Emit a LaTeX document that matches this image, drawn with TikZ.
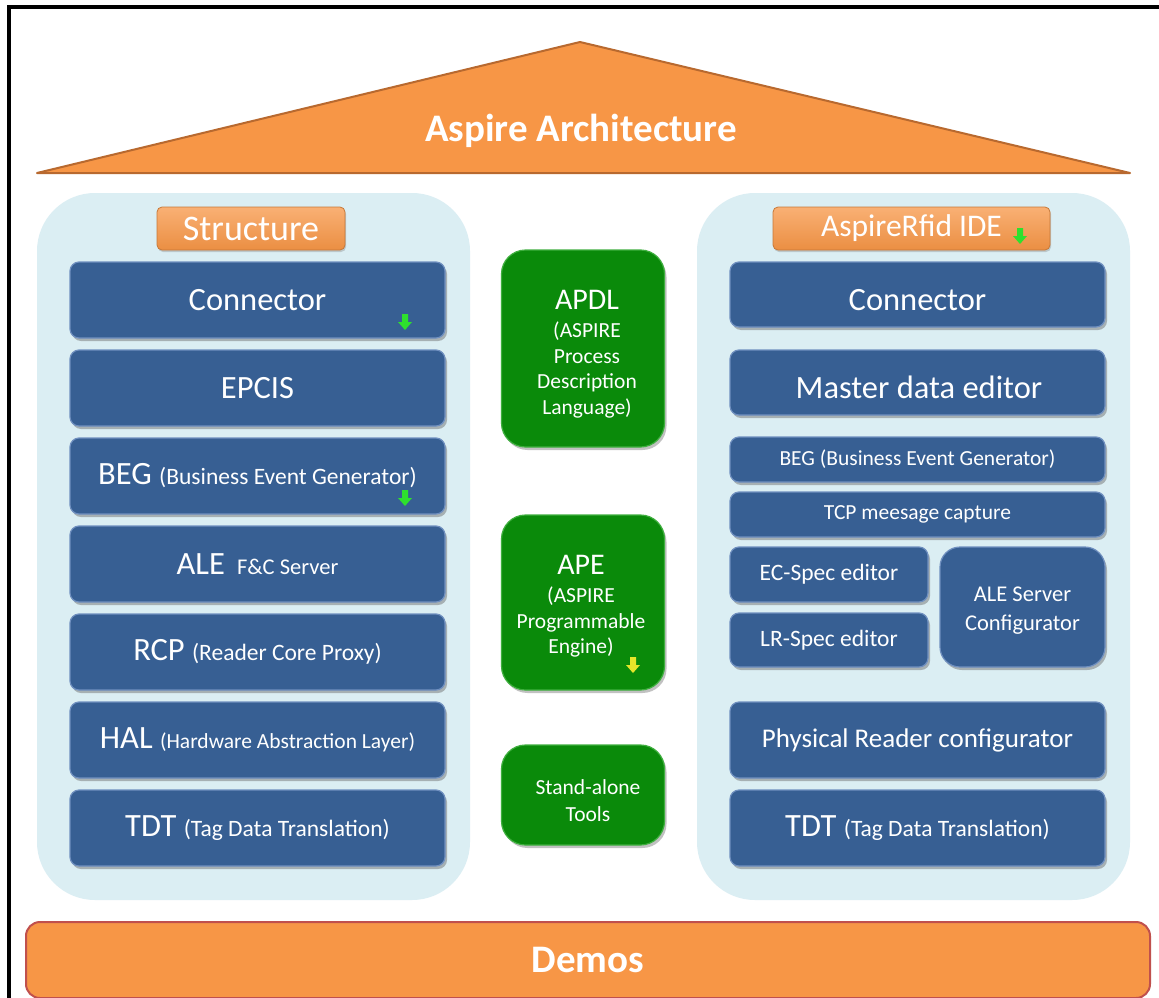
\documentclass[tikz,border=0pt]{standalone}
\usepackage{fontspec}
\setmainfont{Carlito}
\usetikzlibrary{shadows}
\definecolor{roofor}{HTML}{F79646}
\definecolor{roofedge}{HTML}{B8692F}
\definecolor{panelbl}{HTML}{DBEEF3}
\definecolor{boxbl}{HTML}{375F93}
\definecolor{boxedge}{HTML}{6F8FBF}
\definecolor{grn}{HTML}{0A8A0A}
\definecolor{grnedge}{HTML}{3FAF3F}
\definecolor{demoedge}{HTML}{C0504D}
\definecolor{arrgreen}{HTML}{2EE02E}
\definecolor{arryellow}{HTML}{E6E62A}
\newcommand{\BigTxt}{\fontsize{32.5}{38}\selectfont}
\newcommand{\SmlTxt}{\fontsize{23.5}{28}\selectfont}
\tikzset{
  bluebox/.style={rounded corners=9pt, fill=boxbl, draw=boxedge, line width=1.2pt,
     text=white, align=center, inner sep=0pt,
     drop shadow={shadow xshift=2pt, shadow yshift=-3pt, opacity=.45, fill=black!60}},
  boxtext/.style={text=white, align=center, inner sep=0pt},
  greenbox/.style={rounded corners=24pt, fill=grn, draw=grnedge, line width=1.2pt,
     inner sep=0pt,
     drop shadow={shadow xshift=2pt, shadow yshift=-3pt, opacity=.4, fill=black!60}},
  greentext/.style={text=white, align=center, inner sep=0pt, font=\fontsize{21.5}{25.5}\selectfont},
  panel/.style={rounded corners=58pt, fill=panelbl, draw=none, inner sep=0pt},
  tagbox/.style={rounded corners=5pt, top color=roofor!75!white, bottom color=roofor!95!black,
     draw=roofor!80!black, line width=0.8pt, text=white, inner sep=0pt,
     drop shadow={shadow xshift=1pt, shadow yshift=-2pt, opacity=.35}},
  garrow/.pic={\fill[arrgreen] (-3,-8)--(3,-8)--(3,0)--(7,0)--(0,8)--(-7,0)--(-3,0)--cycle;},
  yarrow/.pic={\fill[arryellow] (-3,-8)--(3,-8)--(3,0)--(7,0)--(0,8)--(-7,0)--(-3,0)--cycle;}
}
\begin{document}
\begin{tikzpicture}[x=1pt,y=-1pt]
\useasboundingbox (0,0) rectangle (1159,998);
\fill[white] (0,0) rectangle (1159,998);
% frame
\draw[line width=4.5pt] (9,998) -- (9,7) -- (1159,7);
% roof
\filldraw[fill=roofor, draw=roofedge, line width=2pt, line join=round] (37,173) -- (580,42) -- (1130,173) -- cycle;
\node[text=white, font=\fontsize{39}{44}\selectfont\bfseries] (title) at (581,131) {Aspire Architecture};
% panels
\node[panel, minimum width=433pt, minimum height=707pt] (lpanel) at (253.5,546.5) {};
\node[panel, minimum width=433pt, minimum height=707pt] (rpanel) at (913.5,546.5) {};
% tags
\node[tagbox, minimum width=188pt, minimum height=43pt, font=\fontsize{36}{40}\selectfont] (structure) at (251,228.5) {Structure};
\node[tagbox, minimum width=277pt, minimum height=43pt, font=\fontsize{31.5}{36}\selectfont] (ide) at (911.5,228.5) {AspireRfid IDE\hspace{20pt}};
% left column
\node[bluebox, minimum width=375pt, minimum height=76pt] (lconn) at (257.5,300) {\BigTxt Connector};
\node[bluebox, minimum width=375pt, minimum height=76pt] (lepcis) at (257.5,388) {\BigTxt EPCIS};
\node[bluebox, minimum width=375pt, minimum height=76pt] (lbeg) at (257.5,476) {\BigTxt BEG \SmlTxt(Business Event Generator)};
\node[bluebox, minimum width=375pt, minimum height=76pt] (lale) at (257.5,564) {\BigTxt ALE\hspace{12pt}\fontsize{22.5}{27}\selectfont F\&C Server};
\node[bluebox, minimum width=375pt, minimum height=76pt] (lrcp) at (257.5,652) {\BigTxt RCP \SmlTxt(Reader Core Proxy)};
\node[bluebox, minimum width=375pt, minimum height=76pt] (lhal) at (257.5,740) {\BigTxt HAL \fontsize{21.5}{27}\selectfont(Hardware Abstraction Layer)};
\node[bluebox, minimum width=375pt, minimum height=76pt] (ltdt) at (257.5,828) {\BigTxt TDT \SmlTxt(Tag Data Translation)};
% middle column
\node[greenbox, minimum width=163pt, minimum height=197pt] (apdl) at (583,348.5) {};
\node[greentext] (apdltxt) at (587,354) {{\fontsize{30}{34}\selectfont APDL}\\[3pt](ASPIRE\\Process\\Description\\Language)};
\node[greenbox, minimum width=163pt, minimum height=175pt] (ape) at (583,602.5) {};
\node[greentext] (apetxt) at (581,606) {{\fontsize{30}{34}\selectfont APE}\\[3pt](ASPIRE\\Programmable\\Engine)};
\node[greenbox, minimum width=163pt, minimum height=100pt] (tools) at (583,795) {};
\node[greentext, font=\fontsize{21.5}{27}\selectfont] (toolstxt) at (588,801) {Stand-alone\\Tools};
% right column
\node[bluebox, minimum width=375pt, minimum height=65pt] (rconn) at (917.5,294.5) {};
\node[boxtext, font=\BigTxt] (rconntxt) at (917.5,300) {Connector};
\node[bluebox, minimum width=375pt, minimum height=65pt] (rmde) at (917.5,382.5) {};
\node[boxtext, font=\BigTxt] (rmdetxt) at (919,387) {Master data editor};
\node[bluebox, minimum width=375pt, minimum height=45pt, font=\fontsize{21.5}{25}\selectfont] (rbeg) at (917.5,459.5) {BEG (Business Event Generator)};
\node[bluebox, minimum width=375pt, minimum height=45pt, font=\fontsize{21.5}{25}\selectfont] (rtcp) at (917.5,514.5) {TCP meesage capture};
\node[bluebox, minimum width=198pt, minimum height=55pt, font=\fontsize{23.5}{27}\selectfont] (recs) at (829,574.5) {EC-Spec editor};
\node[bluebox, minimum width=198pt, minimum height=54pt, font=\fontsize{23.5}{27}\selectfont] (rlrs) at (829,640) {LR-Spec editor};
\node[bluebox, rounded corners=20pt, minimum width=165pt, minimum height=120pt] (rale) at (1022.5,607) {};
\node[boxtext, font=\fontsize{22.5}{29}\selectfont] (raletxt) at (1022.5,611) {ALE Server\\Configurator};
\node[bluebox, minimum width=375pt, minimum height=76pt, font=\fontsize{27}{31}\selectfont] (rphys) at (917.5,740) {Physical Reader configurator};
\node[bluebox, minimum width=375pt, minimum height=76pt] (rtdt) at (917.5,828) {\BigTxt TDT \SmlTxt(Tag Data Translation)};
% demos
\node[rounded corners=14pt, fill=roofor, draw=demoedge, line width=2pt, minimum width=1124pt, minimum height=76pt,
  text=white, font=\fontsize{39}{44}\selectfont\bfseries] (demos) at (588,960) {Demos};
% small arrows
\pic at (405,322) {garrow};
\pic at (405,498) {garrow};
\pic at (1020,236) {garrow};
\pic at (633,665) {yarrow};
\end{tikzpicture}
\end{document}
